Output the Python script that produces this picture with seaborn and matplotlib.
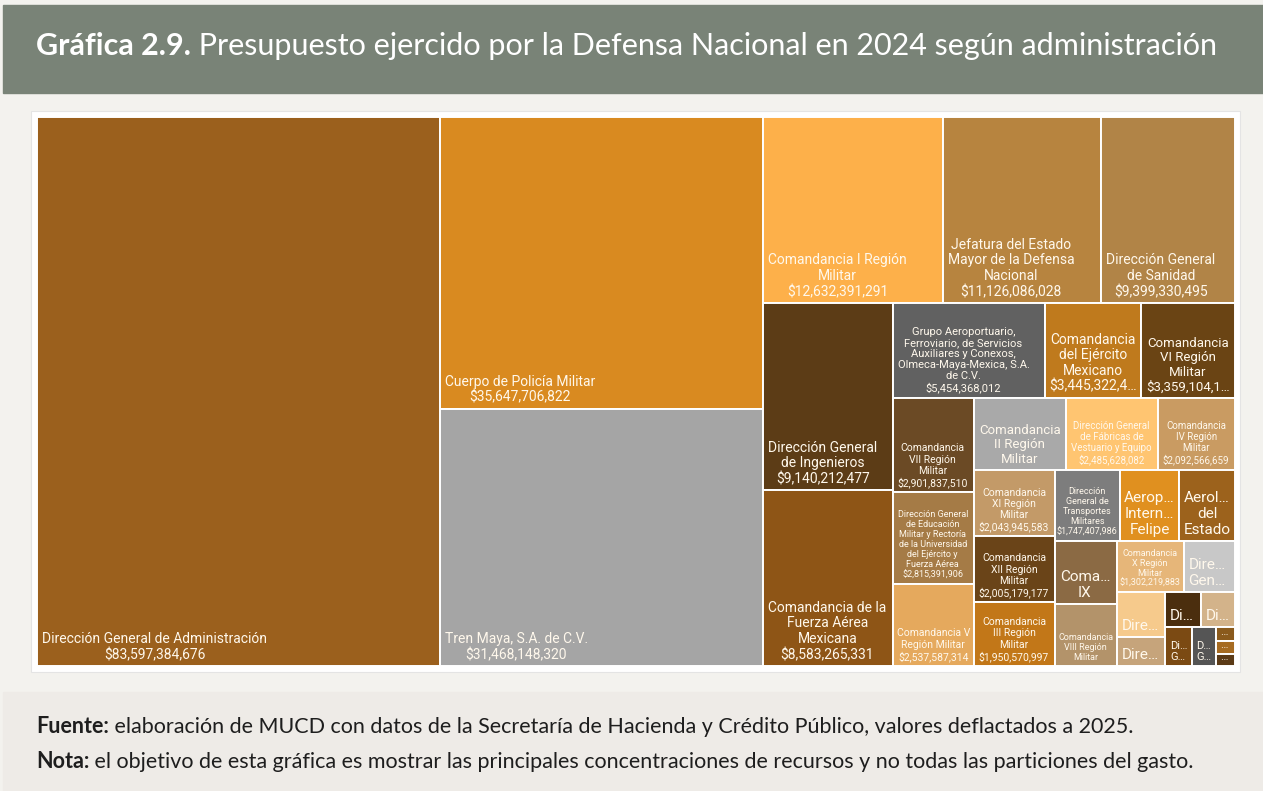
import re
import numpy as np
import pandas as pd
import matplotlib
matplotlib.use("Agg")
import matplotlib.pyplot as plt
import seaborn as sns
from matplotlib.patches import Rectangle
from matplotlib.text import Annotation
from matplotlib.font_manager import FontProperties

# ---- data (pesos, 2024, deflactados a 2025) ----
units = [
    "Dirección General de Administración",
    "Cuerpo de Policía Militar",
    "Tren Maya, S.A. de C.V.",
    "Comandancia I Región Militar",
    "Jefatura del Estado Mayor de la Defensa Nacional",
    "Dirección General de Sanidad",
    "Dirección General de Ingenieros",
    "Comandancia de la Fuerza Aérea Mexicana",
    "Grupo Aeroportuario, Ferroviario, de Servicios Auxiliares y Conexos, Olmeca-Maya-Mexica, S.A. de C.V.",
    "Comandancia del Ejército Mexicano",
    "Comandancia VI Región Militar",
    "Comandancia VII Región Militar",
    "Dirección General de Educación Militar y Rectoría de la Universidad del Ejército y Fuerza Aérea",
    "Comandancia V Región Militar",
    "Comandancia II Región Militar",
    "Dirección General de Fábricas de Vestuario y Equipo",
    "Comandancia IV Región Militar",
    "Comandancia XI Región Militar",
    "Comandancia XII Región Militar",
    "Comandancia III Región Militar",
    "Dirección General de Transportes Militares",
    "Aeropuerto Internacional Felipe Ángeles, S.A. de C.V.",
    "Aerolínea del Estado Mexicano, S.A. de C.V.",
    "Comandancia IX Región Militar",
    "Comandancia VIII Región Militar",
    "Comandancia X Región Militar",
    "Dirección General de Industria Militar",
    "Dirección General de Cartografía",
    "Dirección General de Comunicaciones",
    "Dirección General de Archivo e Historia",
    "Dirección General de Informática",
    "Dirección General de Derechos Humanos",
    "Dirección General de Justicia Militar",
    "Dirección General de Personal",
    "Dirección General de Seguridad Social Militar",
    "Dirección General de Servicios",
]

amounts = [
    83597384676, 35647706822, 31468148320, 12632391291, 11126086028,
    9399330495, 9140212477, 8583265331, 5454368012, 3445322450,
    3359104150, 2901837510, 2815391906, 2537587314, 2510000000,
    2485628082, 2092566659, 2043945583, 2005179177, 1950570997,
    1747407986, 1588781428, 1500437400, 1487922268, 1455000000,
    1302219883, 1000898299, 815000000, 540000000, 480000000,
    450000000, 385000000, 350000000, 100000000, 95000000, 90000000,
]

cell_colors = [
    "#9B601D", "#D98A20", "#A5A5A5", "#FDB04A", "#B7843F",
    "#B18447", "#5C3C16", "#8E5516", "#616161", "#BF7A1D",
    "#6A4414", "#6B4A25", "#A57B46", "#E5A95D", "#A9A9A9",
    "#FFC571", "#C99B62", "#C39A68", "#6A4418", "#C27718",
    "#7D7D7D", "#E0901F", "#9C621C", "#8B6A44", "#B3936A",
    "#E6B679", "#C8C8C8", "#F6CA8C", "#C6A47B", "#4B2E0E",
    "#D3B38A", "#7B4A13", "#555555", "#8A5A1C", "#A66B21",
    "#5B3A16",
]

# value labels only partly legible in the source
partial_values = {
    "Comandancia del Ejército Mexicano": "$3,445,322,4…",
    "Comandancia VI Región Militar": "$3,359,104,1…",
    "Aerolínea del Estado Mexicano, S.A. de C.V.": "$1,500,437,4…",
}
# value labels not shown in the source
hidden_values = set(units[27:]) | {
    "Comandancia II Región Militar",
    "Comandancia VIII Región Militar",
}

title_bold = "Gráfica 2.9."
title_rest = " Presupuesto ejercido por la Defensa Nacional en 2024 según administración"
source_bold = "Fuente:"
source_rest = " elaboración de MUCD con datos de la Secretaría de Hacienda y Crédito Público, valores deflactados a 2025."
note_bold = "Nota:"
note_rest = " el objetivo de esta gráfica es mostrar las principales concentraciones de recursos y no todas las particiones del gasto."

df = pd.DataFrame({"unit": units, "amount": amounts, "color": cell_colors})
df = df.sort_values("amount", ascending=False).reset_index(drop=True)

sns.set_theme(style="white")
plt.rcParams["font.family"] = ["Roboto", "DejaVu Sans"]

W_PX, H_PX, DPI = 1263, 791, 100
fig = plt.figure(figsize=(W_PX / DPI, H_PX / DPI), dpi=DPI, facecolor="#F3F2EE")


def fx(px):
    return px / W_PX


def fy(py):
    return 1 - py / H_PX


# page decoration (behind everything)
fig.patches.append(Rectangle((fx(3), fy(92.5)), fx(1260), 87.5 / H_PX,
                             transform=fig.transFigure, color="#798377", zorder=-5))
fig.patches.append(Rectangle((fx(3), fy(791)), fx(1260), 99 / H_PX,
                             transform=fig.transFigure, color="#EEEBE7", zorder=-5))
fig.patches.append(Rectangle((fx(31), fy(672)), fx(1209), 561 / H_PX,
                             transform=fig.transFigure, facecolor="white",
                             edgecolor="#E4E4E4", lw=0.8, zorder=-5))

# ---- squarified treemap ----
TW, TH = 1198.0, 549.0
ax = fig.add_axes([fx(37), fy(666), TW / W_PX, TH / H_PX])
ax.set_xlim(0, TW)
ax.set_ylim(TH, 0)
ax.axis("off")


def worst(row, side):
    s = sum(row)
    return max(max(side * side * r / (s * s), (s * s) / (side * side * r)) for r in row)


def squarify(areas, x, y, w, h):
    rects = []
    areas = list(areas)
    while areas:
        side = min(w, h)
        row = [areas[0]]
        i = 1
        while i < len(areas) and worst(row + [areas[i]], side) <= worst(row, side):
            row.append(areas[i])
            i += 1
        areas = areas[i:]
        s = sum(row)
        if w >= h:
            cw = s / h
            yy = y
            for a in row:
                rects.append((x, yy, cw, a / cw))
                yy += a / cw
            x += cw
            w -= cw
        else:
            rh = s / w
            xx = x
            for a in row:
                rects.append((xx, y, a / rh, rh))
                xx += a / rh
            y += rh
            h -= rh
    return rects


areas = df["amount"] / df["amount"].sum() * TW * TH
rects = squarify(areas.tolist(), 0, 0, TW, TH)

renderer = fig.canvas.get_renderer()


def tw(s, size):
    prop = FontProperties(family="Roboto", size=size)
    w, _, _ = renderer.get_text_width_height_descent(s, prop, ismath=False)
    return w


def tokens(text):
    return re.findall(r"\S+?-(?=\S)|\S+", text)


def wrap(words, maxw, size):
    lines, cur = [], ""
    for wd in words:
        cand = wd if not cur else cur + ("" if cur.endswith("-") else " ") + wd
        if tw(cand, size) <= maxw or not cur:
            cur = cand
        else:
            lines.append(cur)
            cur = wd
    if cur:
        lines.append(cur)
    return lines


def clip(s, maxw, size):
    if tw(s, size) <= maxw:
        return s
    while s and tw(s + "…", size) > maxw:
        s = s[:-1]
    return s + "…"


def fit_label(name, value, w, h):
    words = tokens(name)
    if name in hidden_values:
        extra = []
    else:
        extra = [partial_values.get(name, f"${value:,.0f}")]
    maxw, maxh = w - 8, h - 6
    top = 10 if w >= 120 else 13
    # pass 1: everything inside the padded tile; pass 2: use the padding too
    passes = [(np.arange(top, 6.49, -0.5), 0, 0, 1.3),
              (np.arange(8.0, 6.49, -0.5), 3, 5, 1.22)]
    for sizes, name_spill, val_spill, lf in passes:
        for size in sizes:
            lines = wrap(words, maxw + name_spill, size)
            ok_w = max(tw(l, size) for l in lines) <= maxw + name_spill
            if extra:
                ok_w = ok_w and tw(extra[0], size) <= maxw + val_spill
            if ok_w and (len(lines) + len(extra)) * size * DPI / 72 * lf <= maxh:
                return lines + extra, size
    size = 11 if min(w, h) > 28 else 8
    lh = size * DPI / 72 * 1.3
    nmax = max(1, int(maxh // lh))
    lines = [clip(l, maxw, size) for l in wrap(words, maxw, size) + extra]
    return lines[:nmax], size


for (x, y, w, h), (_, r) in zip(rects, df.iterrows()):
    ax.add_patch(Rectangle((x, y), w, h, facecolor=r["color"],
                           edgecolor="white", lw=1.4))
    lines, size = fit_label(r["unit"], r["amount"], w, h)
    block_w = max(tw(l, size) for l in lines)
    # keep the text block inside its tile when it is nearly as wide as the tile
    x_text = x + min(5, max(1, (w - block_w) / 2))
    ax.text(x_text, y + h - 4, "\n".join(lines), ha="left", va="bottom",
            multialignment="center", fontsize=size, color="#FFF8EC",
            linespacing=1.15, family="Roboto")

# ---- title and notes ----
t1 = fig.text(fx(36), fy(60), title_bold, fontsize=22, weight="bold",
              color="white", family="Lato", va="bottom")
fig.texts.append(Annotation(title_rest, xy=(1, 0), xycoords=t1, fontsize=22,
                            color="white", family="Lato", va="bottom", ha="left"))

s1 = fig.text(fx(36), fy(737), source_bold, fontsize=15.5, weight="bold",
              color="#1E1E1E", family="Lato", va="bottom")
n1 = fig.text(fx(36), fy(772), note_bold, fontsize=15.5, weight="bold",
              color="#1E1E1E", family="Lato", va="bottom")
for anchor, rest in [(s1, source_rest), (n1, note_rest)]:
    fig.texts.append(Annotation(rest, xy=(1, 0), xycoords=anchor, fontsize=15.5,
                                color="#1E1E1E", family="Lato",
                                va="bottom", ha="left"))
for t in fig.texts:
    t.set_figure(fig)

fig.savefig("out.png", dpi=DPI, facecolor=fig.get_facecolor())
